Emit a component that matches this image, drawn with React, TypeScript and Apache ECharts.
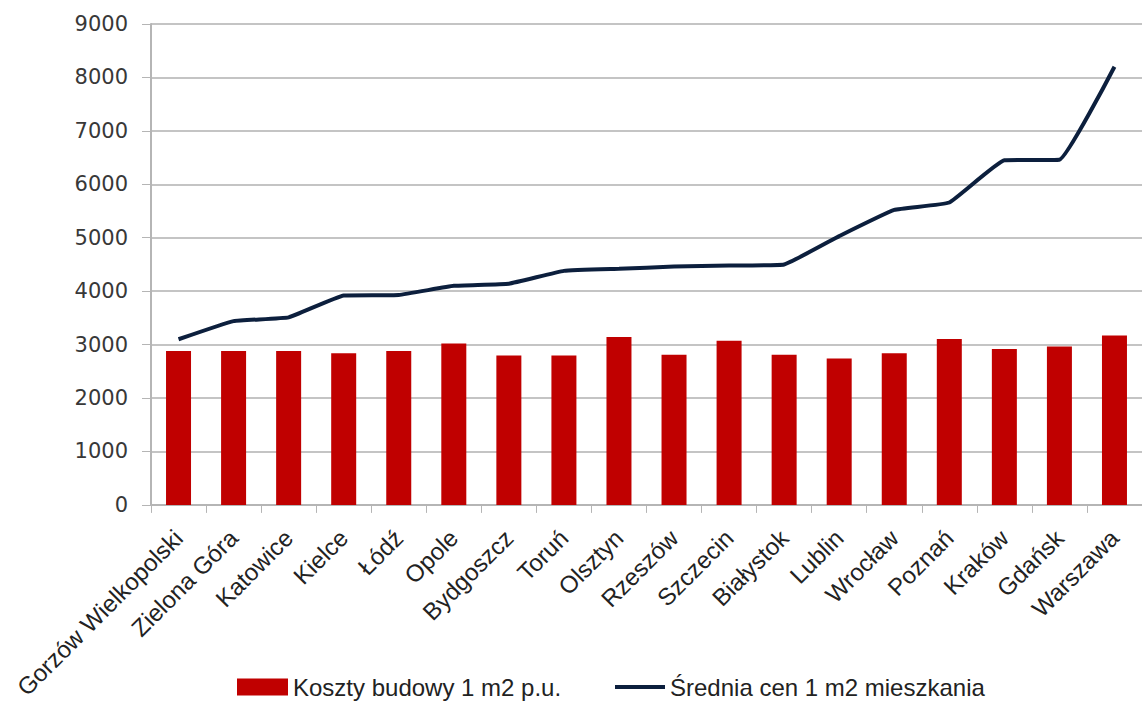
import React, { useEffect, useRef } from "react";
import * as echarts from "echarts";

const cities = [
  "Gorzów Wielkopolski",
  "Zielona Góra",
  "Katowice",
  "Kielce",
  "Łódź",
  "Opole",
  "Bydgoszcz",
  "Toruń",
  "Olsztyn",
  "Rzeszów",
  "Szczecin",
  "Białystok",
  "Lublin",
  "Wrocław",
  "Poznań",
  "Kraków",
  "Gdańsk",
  "Warszawa",
];

const buildCost = [2880, 2880, 2880, 2840, 2880, 3020, 2795, 2795, 3140, 2810, 3070, 2810, 2740, 2840, 3105, 2920, 2965, 3170];

const avgPrice = [3100, 3440, 3510, 3920, 3930, 4100, 4140, 4380, 4420, 4460, 4480, 4500, 5030, 5520, 5660, 6450, 6460, 8200];

const seriesNames = ["Koszty budowy 1 m2 p.u.", "Średnia cen 1 m2 mieszkania"];

export default function App() {
  const ref = useRef<HTMLDivElement>(null);
  useEffect(() => {
    if (!ref.current) return;
    const chart = echarts.init(ref.current, null, { renderer: "svg" });
    const labelFont = "'Liberation Sans', Arial, sans-serif";
    const legendText = { fontFamily: labelFont, fontSize: 24, color: "#222222", lineHeight: 28, padding: [0, 0, 0, 0] };
    chart.setOption({
      animation: false,
      backgroundColor: "#ffffff",
      grid: { left: 151, right: -13, top: 24, bottom: 195, containLabel: false },
      legend: [
        {
          left: 237,
          top: 673,
          padding: 0,
          itemWidth: 51,
          itemHeight: 17,
          textStyle: legendText,
          data: [{ name: seriesNames[0], icon: "rect" }],
        },
        {
          left: 615,
          top: 673,
          padding: 0,
          itemWidth: 50,
          itemHeight: 4,
          textStyle: legendText,
          data: [{ name: seriesNames[1], icon: "rect" }],
        },
      ],
      xAxis: {
        type: "category",
        data: cities,
        axisLine: { show: true, lineStyle: { color: "#b5b5b5", width: 2 } },
        axisTick: { show: true, length: 8, lineStyle: { color: "#b5b5b5", width: 1 } },
        axisLabel: {
          rotate: 45,
          margin: 29,
          interval: 0,
          fontFamily: labelFont,
          fontSize: 24,
          color: "#222222",
        },
      },
      yAxis: {
        type: "value",
        min: 0,
        max: 9000,
        interval: 1000,
        axisLine: { show: true, lineStyle: { color: "#b5b5b5", width: 2 } },
        axisTick: { show: true, length: 9, lineStyle: { color: "#b5b5b5", width: 1 } },
        splitLine: { show: true, lineStyle: { color: "#c4c4c4", width: 2 } },
        axisLabel: {
          margin: 23,
          formatter: (v: number) => String(v),
          fontFamily: "'DejaVu Sans', sans-serif",
          fontSize: 21,
          color: "#383838",
        },
      },
      series: [
        {
          name: seriesNames[0],
          type: "bar",
          data: buildCost,
          barWidth: 25,
          itemStyle: { color: "#c00000" },
        },
        {
          name: seriesNames[1],
          type: "line",
          data: avgPrice,
          symbol: "none",
          showSymbol: false,
          smooth: 0.1,
          lineStyle: { color: "#0c1f3d", width: 4 },
          itemStyle: { color: "#0c1f3d" },
        },
      ],
    });
    return () => chart.dispose();
  }, []);
  return (
    <div
      ref={ref}
      style={{ position: "fixed", left: 0, top: 0, width: 1142, height: 702 }}
    />
  );
}
